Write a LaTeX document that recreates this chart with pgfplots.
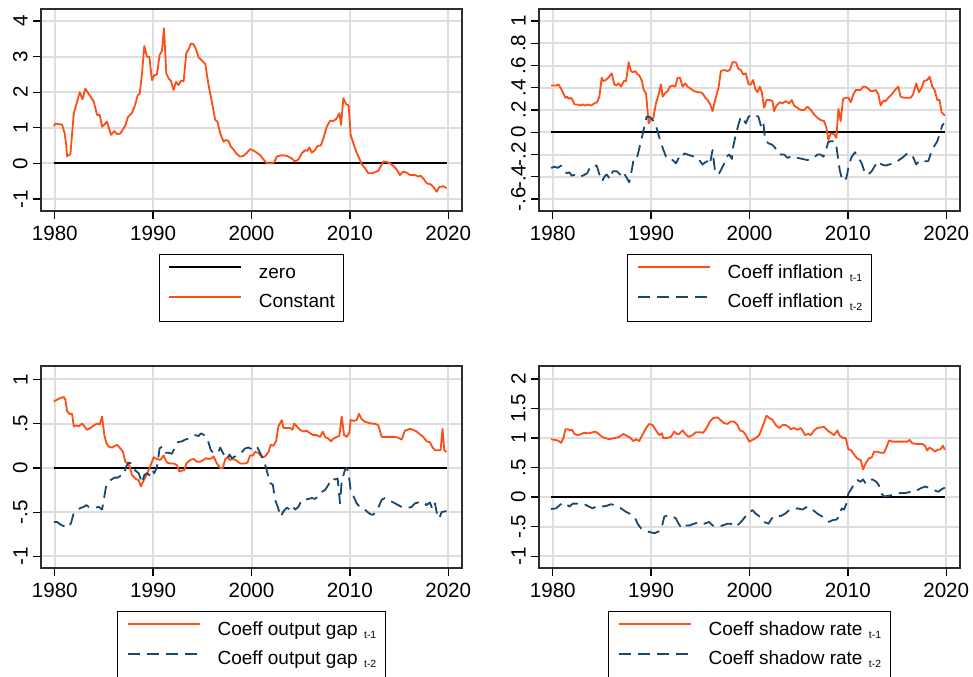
\documentclass[border=0pt]{standalone}
\usepackage{fontspec}
\setmainfont{Liberation Sans}
\usepackage{pgfplots}
\pgfplotsset{compat=1.18}

\definecolor{orng}{RGB}{255,77,20}
\definecolor{navy}{RGB}{26,71,111}
\definecolor{gridgray}{RGB}{222,222,222}
\definecolor{framegray}{RGB}{45,45,45}

\newcommand{\lag}[1]{\hspace{3.2pt}\raisebox{-1.6pt}{\fontsize{5.2}{5.2}\selectfont t-#1}}

\pgfplotsset{
  panel/.style={
    scale only axis, width=210.5pt, height=101pt,
    xmin=1978.6, xmax=2021.4,
    xtick={1980,1990,2000,2010,2020},
    grid=major, major grid style={draw=gridgray, line width=1pt},
    axis line style={draw=framegray, line width=0.9pt},
    tick style={draw=black, line width=0.7pt},
    tick align=outside, major tick length=3.8pt,
    xtick pos=left, ytick pos=left,
    ticklabel style={font=\fontsize{10.3}{11}\selectfont},
    /pgf/number format/assume math mode=true,
    /pgf/number format/1000 sep={},
    yticklabel style={rotate=90, anchor=south},
    yticklabel shift=-0.6pt,
    legend cell align=left,
    legend image code/.code={\draw[##1] (0pt,3pt) -- (36pt,3pt);},
    legend style={
      at={(0.5,-0.215)}, anchor=north,
      draw=black, line width=0.5pt,
      font=\fontsize{9.5}{10}\selectfont,
      inner xsep=4.5pt, inner ysep=4.8pt,
      row sep=6pt, column sep=8.5pt,
      nodes={inner sep=0pt, text height=6.8pt, text depth=2pt},
    },
  },
  coefA/.style={color=orng, line width=0.9pt, line join=round},
  coefB/.style={color=navy, line width=0.9pt, line join=round, dash pattern=on 6pt off 3.5pt},
  zeroline/.style={color=black, line width=0.9pt},
}

\begin{document}
\begin{tikzpicture}

% ---------------- Constant ----------------
\begin{axis}[panel, at={(20.5pt,-4.5pt)}, anchor=north west,
  ymin=-1.34, ymax=4.34, ytick={-1,0,1,2,3,4}]
\addplot[zeroline] coordinates {(1979.9,0) (2019.83,0)};
\addlegendentry{zero}
\addplot[coefA] coordinates {
(1979.90,1.05) (1980.07,1.12) (1980.41,1.10) (1980.74,1.09) (1981.00,0.85)
(1981.15,0.55) (1981.25,0.20) (1981.59,0.26) (1981.93,1.40) (1982.54,2.00)
(1982.81,1.80) (1983.11,2.10) (1983.62,1.88) (1983.96,1.74) (1984.30,1.36)
(1984.57,1.36) (1984.81,1.03) (1985.31,1.17) (1985.72,0.80) (1986.06,0.91)
(1986.33,0.82) (1986.67,0.84) (1987.17,1.06) (1987.45,1.31) (1987.85,1.42)
(1988.19,1.66) (1988.43,1.92) (1988.63,1.95) (1988.87,2.53) (1989.10,3.30)
(1989.37,3.00) (1989.61,3.00) (1989.88,2.34) (1990.12,2.48) (1990.39,2.50)
(1990.66,3.05) (1990.90,3.16) (1991.10,3.80) (1991.34,2.53) (1991.57,2.39)
(1991.81,2.32) (1992.08,2.06) (1992.32,2.29) (1992.59,2.20) (1992.83,2.33)
(1993.10,2.31) (1993.37,3.10) (1993.60,3.20) (1993.84,3.37) (1994.11,3.35)
(1994.38,3.19) (1994.62,2.98) (1994.96,2.89) (1995.30,2.80) (1995.63,2.20)
(1995.97,1.73) (1996.31,1.22) (1996.55,1.17) (1996.82,0.84) (1997.16,0.61)
(1997.39,0.66) (1997.66,0.63) (1997.90,0.47) (1998.17,0.39) (1998.51,0.26)
(1998.85,0.19) (1999.19,0.21) (1999.53,0.30) (1999.86,0.40) (2000.20,0.36)
(2000.54,0.30) (2000.88,0.23) (2001.22,0.11) (2001.56,0.00) (2001.96,0.00)
(2002.30,0.03) (2002.57,0.19) (2003.08,0.23) (2003.59,0.21) (2004.09,0.14)
(2004.43,0.05) (2004.77,0.11) (2005.11,0.28) (2005.45,0.37) (2005.69,0.35)
(2005.89,0.45) (2006.13,0.30) (2006.46,0.37) (2006.70,0.49) (2007.04,0.50)
(2007.31,0.70) (2007.65,1.03) (2007.99,1.20) (2008.32,1.19) (2008.66,1.26)
(2008.93,1.41) (2009.10,1.08) (2009.34,1.83) (2009.61,1.67) (2009.88,1.62)
(2010.08,0.80) (2010.36,0.56) (2010.69,0.30) (2010.96,0.14) (2011.20,-0.02)
(2011.54,-0.14) (2011.88,-0.28) (2012.22,-0.28) (2012.55,-0.25) (2012.89,-0.21)
(2013.13,-0.09) (2013.40,0.05) (2013.74,0.04) (2014.08,0.00) (2014.42,-0.07)
(2014.75,-0.17) (2015.09,-0.33) (2015.43,-0.23) (2015.77,-0.26) (2016.11,-0.33)
(2016.62,-0.33) (2016.95,-0.37) (2017.19,-0.35) (2017.46,-0.42) (2017.80,-0.56)
(2018.21,-0.59) (2018.48,-0.66) (2018.82,-0.80) (2019.09,-0.66) (2019.32,-0.66)
(2019.49,-0.64) (2019.83,-0.70)
};
\addlegendentry{Constant}
\end{axis}

% ---------------- Inflation ----------------
\begin{axis}[panel, at={(269.5pt,-4.5pt)}, anchor=north west,
  ymin=-0.708, ymax=1.108, ytick={-0.6,-0.4,-0.2,0,0.2,0.4,0.6,0.8,1},
  yticklabels={-.6,-.4,-.2,0,.2,.4,.6,.8,1}]
\addplot[zeroline, forget plot] coordinates {(1979.83,0) (2019.86,0)};
\addplot[coefA] coordinates {
(1979.83,0.42) (1980.34,0.42) (1980.58,0.43) (1980.85,0.39) (1981.08,0.35)
(1981.29,0.31) (1981.46,0.32) (1981.62,0.30) (1981.79,0.31) (1981.96,0.30)
(1982.20,0.25) (1982.54,0.25) (1982.77,0.24) (1983.05,0.25) (1983.32,0.24)
(1983.55,0.25) (1983.89,0.24) (1984.23,0.26) (1984.50,0.27) (1984.74,0.32)
(1984.97,0.49) (1985.14,0.46) (1985.41,0.47) (1985.75,0.50) (1985.99,0.53)
(1986.26,0.43) (1986.50,0.42) (1986.70,0.44) (1986.94,0.41) (1987.21,0.46)
(1987.45,0.46) (1987.72,0.63) (1987.95,0.55) (1988.12,0.54) (1988.39,0.55)
(1988.63,0.52) (1988.80,0.51) (1989.07,0.46) (1989.24,0.38) (1989.48,0.35)
(1989.75,0.08) (1989.98,0.12) (1990.22,0.13) (1990.49,0.26) (1990.76,0.34)
(1991.00,0.43) (1991.17,0.32) (1991.40,0.35) (1991.68,0.37) (1991.91,0.41)
(1992.18,0.42) (1992.45,0.41) (1992.69,0.49) (1992.93,0.49) (1993.20,0.41)
(1993.47,0.44) (1993.71,0.41) (1994.04,0.39) (1994.38,0.37) (1994.72,0.36)
(1994.96,0.36) (1995.23,0.35) (1995.50,0.31) (1995.74,0.29) (1996.01,0.25)
(1996.24,0.19) (1996.51,0.29) (1996.85,0.40) (1997.09,0.55) (1997.43,0.56)
(1997.77,0.55) (1998.00,0.56) (1998.27,0.63) (1998.61,0.63) (1998.88,0.57)
(1999.12,0.56) (1999.36,0.52) (1999.63,0.53) (1999.90,0.43) (2000.14,0.43)
(2000.37,0.47) (2000.58,0.39) (2000.81,0.36) (2001.05,0.41) (2001.25,0.36)
(2001.49,0.22) (2001.73,0.29) (2002.06,0.29) (2002.34,0.28) (2002.50,0.19)
(2002.74,0.24) (2003.08,0.27) (2003.35,0.26) (2003.69,0.28) (2004.03,0.26)
(2004.30,0.29) (2004.53,0.24) (2004.87,0.22) (2005.21,0.20) (2005.55,0.20)
(2005.89,0.23) (2006.23,0.20) (2006.57,0.16) (2006.90,0.13) (2007.24,0.11)
(2007.58,0.10) (2007.82,0.04) (2008.02,-0.07) (2008.26,-0.01) (2008.60,-0.02)
(2008.83,-0.05) (2009.04,0.21) (2009.27,0.10) (2009.51,0.30) (2009.78,0.31)
(2010.05,0.31) (2010.29,0.27) (2010.56,0.34) (2010.80,0.38) (2011.07,0.38)
(2011.30,0.38) (2011.54,0.41) (2011.81,0.41) (2012.08,0.39) (2012.32,0.37)
(2012.55,0.37) (2012.83,0.38) (2013.10,0.34) (2013.33,0.24) (2013.57,0.28)
(2013.84,0.28) (2014.11,0.31) (2014.45,0.34) (2014.79,0.38) (2015.13,0.41)
(2015.36,0.32) (2015.70,0.31) (2016.04,0.31) (2016.38,0.31) (2016.62,0.34)
(2016.95,0.44) (2017.22,0.36) (2017.50,0.40) (2017.73,0.46) (2018.07,0.47)
(2018.31,0.50) (2018.58,0.41) (2018.82,0.38) (2019.09,0.29) (2019.32,0.29)
(2019.53,0.18) (2019.86,0.15)
};
\addlegendentry{Coeff inflation\lag{1}}
\addplot[coefB] coordinates {
(1979.83,-0.32) (1980.17,-0.31) (1980.51,-0.32) (1980.85,-0.30) (1981.42,-0.37)
(1981.69,-0.36) (1981.93,-0.39) (1982.37,-0.38) (1982.71,-0.40) (1983.05,-0.39)
(1983.49,-0.37) (1983.89,-0.30) (1984.47,-0.30) (1984.74,-0.38) (1985.01,-0.44)
(1985.25,-0.40) (1985.48,-0.38) (1985.82,-0.42) (1986.09,-0.35) (1986.50,-0.35)
(1986.84,-0.38) (1987.11,-0.35) (1987.45,-0.40) (1987.78,-0.45) (1988.05,-0.33)
(1988.19,-0.26) (1988.46,-0.26) (1988.73,-0.17) (1988.97,-0.08) (1989.31,0.05)
(1989.54,0.14) (1989.81,0.14) (1990.15,0.11) (1990.39,0.08) (1990.66,0.01)
(1990.90,-0.07) (1991.17,-0.14) (1991.51,-0.22) (1991.84,-0.25) (1992.18,-0.25)
(1992.52,-0.28) (1992.86,-0.22) (1993.13,-0.23) (1993.37,-0.19) (1993.71,-0.20)
(1994.04,-0.21) (1994.38,-0.22) (1994.72,-0.23) (1995.23,-0.29) (1995.50,-0.27)
(1995.74,-0.26) (1995.97,-0.29) (1996.24,-0.16) (1996.48,-0.34) (1996.85,-0.38)
(1997.09,-0.34) (1997.43,-0.28) (1997.66,-0.22) (1997.94,-0.20) (1998.21,-0.24)
(1998.34,-0.13) (1998.61,-0.02) (1998.88,0.07) (1999.12,0.14) (1999.36,0.12)
(1999.63,0.08) (1999.90,0.14) (2000.14,0.15) (2000.37,0.14) (2000.64,0.15)
(2000.91,0.14) (2001.15,0.06) (2001.39,0.10) (2001.59,-0.07) (2001.93,-0.10)
(2002.27,-0.11) (2002.61,-0.14) (2002.84,-0.19) (2003.18,-0.20) (2003.52,-0.20)
(2003.86,-0.23) (2004.20,-0.22) (2004.53,-0.22) (2004.87,-0.23) (2005.38,-0.24)
(2005.89,-0.25) (2006.23,-0.24) (2006.57,-0.23) (2006.90,-0.20) (2007.24,-0.20)
(2007.51,-0.22) (2007.75,-0.17) (2007.99,-0.09) (2008.26,-0.08) (2008.60,-0.08)
(2008.77,-0.09) (2009.00,-0.23) (2009.17,-0.34) (2009.37,-0.41) (2009.61,-0.44)
(2009.85,-0.41) (2010.12,-0.29) (2010.39,-0.22) (2010.73,-0.18) (2011.07,-0.23)
(2011.41,-0.28) (2011.74,-0.37) (2012.08,-0.38) (2012.42,-0.35) (2012.76,-0.30)
(2013.10,-0.26) (2013.43,-0.29) (2013.84,-0.30) (2014.18,-0.29) (2014.69,-0.28)
(2015.02,-0.26) (2015.53,-0.23) (2016.04,-0.19) (2016.48,-0.20) (2016.72,-0.24)
(2016.95,-0.29) (2017.22,-0.26) (2017.50,-0.25) (2017.83,-0.26) (2018.17,-0.26)
(2018.51,-0.17) (2018.75,-0.13) (2019.09,-0.08) (2019.32,-0.02) (2019.59,0.06)
(2019.76,0.08)
};
\addlegendentry{Coeff inflation\lag{2}}
\end{axis}

% ---------------- Output gap ----------------
\begin{axis}[panel, at={(20.5pt,-183pt)}, anchor=north west,
  ymin=-1.13, ymax=1.15, ytick={-1,-0.5,0,0.5,1},
  yticklabels={-1,-.5,0,.5,1}]
\addplot[zeroline, forget plot] coordinates {(1979.9,0) (2019.83,0)};
\addplot[coefA] coordinates {
(1979.90,0.75) (1980.24,0.77) (1980.58,0.79) (1980.91,0.80) (1981.08,0.77)
(1981.25,0.64) (1981.49,0.61) (1981.76,0.61) (1981.93,0.47) (1982.20,0.48)
(1982.44,0.47) (1982.77,0.50) (1983.01,0.47) (1983.28,0.43) (1983.62,0.45)
(1983.96,0.48) (1984.30,0.50) (1984.57,0.49) (1984.81,0.58) (1985.04,0.37)
(1985.25,0.28) (1985.48,0.24) (1985.82,0.23) (1986.16,0.25) (1986.33,0.26)
(1986.67,0.22) (1986.94,0.18) (1987.17,0.07) (1987.41,0.05) (1987.61,0.02)
(1987.85,-0.08) (1988.19,-0.12) (1988.53,-0.14) (1988.76,-0.21) (1989.04,-0.14)
(1989.37,-0.07) (1989.71,0.02) (1990.05,0.12) (1990.39,0.10) (1990.73,0.09)
(1991.07,0.14) (1991.40,0.06) (1991.74,0.05) (1992.08,0.05) (1992.42,0.03)
(1992.66,-0.04) (1992.93,-0.03) (1993.16,-0.03) (1993.37,0.05) (1993.77,0.09)
(1994.11,0.10) (1994.45,0.07) (1994.79,0.07) (1995.13,0.09) (1995.40,0.11)
(1995.63,0.10) (1995.97,0.11) (1996.14,0.13) (1996.48,0.05) (1996.82,0.00)
(1997.09,0.00) (1997.33,0.10) (1997.56,0.12) (1997.83,0.09) (1998.17,0.10)
(1998.51,0.08) (1998.85,0.05) (1999.36,0.05) (1999.59,0.06) (1999.86,0.14)
(2000.14,0.14) (2000.37,0.18) (2000.71,0.17) (2001.05,0.12) (2001.39,0.13)
(2001.73,0.18) (2001.96,0.26) (2002.23,0.25) (2002.50,0.30) (2002.74,0.47)
(2003.08,0.54) (2003.25,0.45) (2003.59,0.45) (2003.93,0.45) (2004.16,0.43)
(2004.33,0.50) (2004.60,0.47) (2004.94,0.43) (2005.28,0.41) (2005.62,0.42)
(2005.96,0.39) (2006.29,0.37) (2006.63,0.37) (2006.97,0.35) (2007.24,0.41)
(2007.48,0.35) (2007.82,0.33) (2008.09,0.30) (2008.32,0.33) (2008.66,0.35)
(2008.93,0.36) (2009.17,0.58) (2009.41,0.37) (2009.68,0.35) (2009.95,0.40)
(2010.08,0.54) (2010.42,0.53) (2010.69,0.54) (2010.93,0.61) (2011.20,0.55)
(2011.54,0.52) (2011.88,0.51) (2012.22,0.50) (2012.55,0.50) (2012.89,0.48)
(2013.23,0.35) (2013.57,0.35) (2013.91,0.35) (2014.25,0.35) (2014.59,0.35)
(2014.92,0.34) (2015.26,0.32) (2015.60,0.42) (2016.11,0.44) (2016.45,0.43)
(2016.79,0.41) (2017.12,0.38) (2017.46,0.35) (2017.80,0.30) (2018.14,0.29)
(2018.41,0.23) (2018.65,0.20) (2018.98,0.20) (2019.22,0.20) (2019.42,0.44)
(2019.60,0.20) (2019.83,0.18)
};
\addlegendentry{Coeff output gap\lag{1}}
\addplot[coefB] coordinates {
(1979.90,-0.61) (1980.24,-0.61) (1980.58,-0.64) (1980.98,-0.66) (1981.42,-0.67)
(1981.66,-0.62) (1981.93,-0.51) (1982.34,-0.47) (1982.67,-0.45) (1982.94,-0.44)
(1983.21,-0.42) (1983.45,-0.44) (1983.79,-0.44) (1984.13,-0.45) (1984.47,-0.44)
(1984.81,-0.47) (1985.04,-0.32) (1985.25,-0.19) (1985.65,-0.14) (1986.06,-0.11)
(1986.40,-0.11) (1986.67,-0.09) (1987.01,-0.08) (1987.28,0.02) (1987.51,0.06)
(1987.75,0.05) (1988.02,0.00) (1988.19,-0.03) (1988.53,-0.06) (1988.87,-0.17)
(1989.10,-0.08) (1989.37,-0.06) (1989.64,-0.08) (1989.88,-0.02) (1990.12,-0.06)
(1990.39,0.01) (1990.66,0.22) (1990.90,0.24) (1991.24,0.17) (1991.57,0.17)
(1991.91,0.16) (1992.25,0.24) (1992.49,0.29) (1992.93,0.30) (1993.27,0.32)
(1993.60,0.33) (1993.94,0.35) (1994.28,0.37) (1994.62,0.36) (1994.86,0.39)
(1995.19,0.37) (1995.53,0.32) (1995.87,0.20) (1996.14,0.17) (1996.41,0.17)
(1996.65,0.18) (1996.82,0.23) (1997.09,0.17) (1997.33,0.13) (1997.50,0.10)
(1997.77,0.15) (1998.00,0.11) (1998.34,0.13) (1998.68,0.16) (1999.02,0.18)
(1999.36,0.22) (1999.70,0.23) (2000.03,0.21) (2000.30,0.20) (2000.61,0.23)
(2000.88,0.17) (2001.22,0.09) (2001.46,0.01) (2001.62,-0.06) (2001.89,-0.17)
(2002.17,-0.19) (2002.40,-0.36) (2002.67,-0.44) (2002.98,-0.55) (2003.25,-0.49)
(2003.59,-0.45) (2003.93,-0.47) (2004.20,-0.43) (2004.43,-0.47) (2004.77,-0.44)
(2005.11,-0.36) (2005.45,-0.36) (2005.79,-0.35) (2006.13,-0.34) (2006.46,-0.35)
(2006.80,-0.32) (2007.14,-0.27) (2007.48,-0.25) (2007.82,-0.19) (2008.16,-0.12)
(2008.49,-0.13) (2008.76,-0.12) (2009.00,-0.40) (2009.17,-0.15) (2009.51,-0.02)
(2009.68,0.00) (2009.85,-0.05) (2010.08,-0.25) (2010.29,-0.30) (2010.69,-0.40)
(2011.03,-0.44) (2011.37,-0.45) (2011.71,-0.49) (2012.05,-0.52) (2012.32,-0.53)
(2012.55,-0.51) (2012.89,-0.45) (2013.23,-0.36) (2013.57,-0.34) (2013.91,-0.36)
(2014.25,-0.38) (2014.59,-0.40) (2014.92,-0.42) (2015.26,-0.44) (2015.60,-0.45)
(2015.94,-0.45) (2016.28,-0.44) (2016.62,-0.40) (2016.95,-0.39) (2017.29,-0.40)
(2017.53,-0.39) (2017.80,-0.42) (2018.14,-0.39) (2018.41,-0.47) (2018.65,-0.40)
(2018.88,-0.53) (2019.09,-0.57) (2019.32,-0.50) (2019.66,-0.49) (2019.83,-0.49)
};
\addlegendentry{Coeff output gap\lag{2}}
\end{axis}

% ---------------- Shadow rate ----------------
\begin{axis}[panel, at={(269.5pt,-183pt)}, anchor=north west,
  ymin=-1.2, ymax=2.22, ytick={-1,-0.5,0,0.5,1,1.5,2},
  yticklabels={-1,-.5,0,.5,1,1.5,2}]
\addplot[zeroline, forget plot] coordinates {(1979.83,0) (2019.86,0)};
\addplot[coefA] coordinates {
(1979.83,0.98) (1980.17,0.97) (1980.51,0.96) (1980.85,0.92) (1981.08,1.00)
(1981.29,1.15) (1981.52,1.15) (1981.76,1.13) (1981.96,1.14) (1982.20,1.07)
(1982.54,1.05) (1982.88,1.07) (1983.21,1.09) (1983.55,1.08) (1983.89,1.09)
(1984.33,1.11) (1984.67,1.07) (1985.01,1.02) (1985.35,1.00) (1985.75,0.98)
(1986.26,1.00) (1986.77,1.02) (1987.17,1.07) (1987.51,1.04) (1987.85,1.01)
(1988.19,0.95) (1988.46,0.98) (1988.80,0.95) (1988.97,1.01) (1989.20,1.08)
(1989.48,1.17) (1989.81,1.24) (1990.15,1.22) (1990.49,1.13) (1990.83,1.05)
(1991.10,1.08) (1991.23,1.00) (1991.57,1.00) (1992.01,1.02) (1992.35,1.11)
(1992.62,1.07) (1992.86,1.07) (1993.20,1.13) (1993.47,1.07) (1993.81,1.02)
(1994.21,1.05) (1994.55,1.10) (1994.96,1.10) (1995.30,1.09) (1995.63,1.17)
(1995.97,1.28) (1996.31,1.34) (1996.75,1.35) (1997.09,1.30) (1997.43,1.25)
(1997.77,1.24) (1998.10,1.28) (1998.44,1.28) (1998.78,1.22) (1999.02,1.13)
(1999.36,1.11) (1999.63,1.05) (1999.97,0.94) (2000.30,0.97) (2000.64,1.00)
(2000.98,1.05) (2001.32,1.19) (2001.73,1.38) (2002.00,1.34) (2002.34,1.31)
(2002.67,1.22) (2003.01,1.17) (2003.35,1.22) (2003.69,1.22) (2003.96,1.19)
(2004.20,1.15) (2004.53,1.17) (2004.87,1.14) (2005.21,1.17) (2005.38,1.13)
(2005.65,1.05) (2005.99,1.07) (2006.23,1.05) (2006.57,1.13) (2006.90,1.17)
(2007.24,1.18) (2007.58,1.19) (2007.92,1.13) (2008.26,1.09) (2008.60,1.05)
(2008.93,1.13) (2009.17,1.04) (2009.51,1.00) (2009.78,1.00) (2010.05,0.81)
(2010.29,0.80) (2010.56,0.74) (2010.80,0.68) (2011.07,0.64) (2011.30,0.63)
(2011.54,0.47) (2011.81,0.57) (2012.15,0.66) (2012.42,0.67) (2012.66,0.77)
(2012.99,0.77) (2013.33,0.75) (2013.67,0.75) (2013.91,0.84) (2014.18,0.96)
(2014.52,0.94) (2014.86,0.94) (2015.36,0.94) (2015.70,0.94) (2016.04,0.94)
(2016.28,0.97) (2016.55,0.91) (2017.05,0.90) (2017.56,0.90) (2017.83,0.87)
(2018.07,0.79) (2018.31,0.84) (2018.58,0.81) (2018.85,0.77) (2019.09,0.80)
(2019.42,0.81) (2019.66,0.87) (2019.86,0.80)
};
\addlegendentry{Coeff shadow rate\lag{1}}
\addplot[coefB] coordinates {
(1979.83,-0.20) (1980.34,-0.19) (1980.68,-0.14) (1980.95,-0.10) (1981.35,-0.11)
(1981.69,-0.16) (1982.03,-0.11) (1982.44,-0.11) (1982.77,-0.12) (1983.21,-0.12)
(1983.55,-0.15) (1984.06,-0.19) (1984.47,-0.15) (1984.91,-0.16) (1985.41,-0.15)
(1985.92,-0.12) (1986.36,-0.14) (1986.94,-0.19) (1987.45,-0.25) (1987.95,-0.29)
(1988.29,-0.33) (1988.63,-0.45) (1988.97,-0.53) (1989.31,-0.56) (1989.81,-0.59)
(1990.32,-0.61) (1990.66,-0.59) (1991.00,-0.56) (1991.34,-0.33) (1991.68,-0.31)
(1992.11,-0.32) (1992.52,-0.36) (1992.79,-0.45) (1993.13,-0.53) (1993.47,-0.48)
(1993.87,-0.48) (1994.38,-0.45) (1994.89,-0.42) (1995.40,-0.45) (1995.90,-0.42)
(1996.24,-0.48) (1996.75,-0.50) (1997.26,-0.48) (1997.77,-0.45) (1998.10,-0.45)
(1998.44,-0.50) (1998.78,-0.48) (1999.29,-0.39) (1999.80,-0.28) (2000.30,-0.22)
(2000.64,-0.28) (2001.05,-0.33) (2001.49,-0.42) (2001.93,-0.45) (2002.27,-0.36)
(2002.67,-0.31) (2003.18,-0.32) (2003.62,-0.28) (2004.03,-0.22) (2004.43,-0.21)
(2004.87,-0.19) (2005.38,-0.21) (2005.89,-0.16) (2006.40,-0.21) (2006.90,-0.28)
(2007.41,-0.33) (2007.82,-0.39) (2008.09,-0.42) (2008.43,-0.39) (2008.83,-0.38)
(2009.10,-0.33) (2009.37,-0.19) (2009.61,-0.21) (2009.85,-0.11) (2010.05,0.06)
(2010.39,0.15) (2010.63,0.23) (2010.96,0.29) (2011.30,0.26) (2011.54,0.30)
(2011.81,0.23) (2012.15,0.29) (2012.49,0.30) (2012.89,0.26) (2013.16,0.20)
(2013.43,0.06) (2013.67,0.01) (2014.01,0.02) (2014.35,0.03) (2014.86,0.05)
(2015.36,0.07) (2015.87,0.07) (2016.38,0.09) (2016.88,0.10) (2017.39,0.15)
(2017.90,0.18) (2018.31,0.15) (2018.75,0.12) (2019.19,0.09) (2019.59,0.14)
(2019.86,0.16)
};
\addlegendentry{Coeff shadow rate\lag{2}}
\end{axis}

\pgfresetboundingbox
\path[use as bounding box] (0pt,0pt) rectangle (486.5pt,-338pt);
\end{tikzpicture}
\end{document}
